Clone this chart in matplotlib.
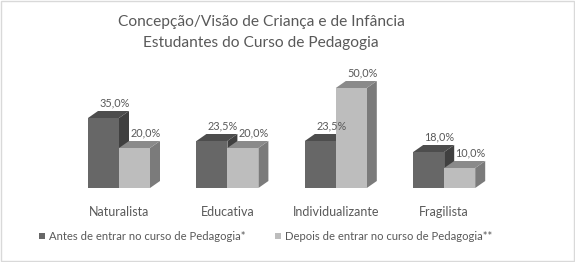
import numpy as np
import matplotlib.pyplot as plt
from matplotlib.patches import Polygon, Rectangle

# data
categories = ['Naturalista', 'Educativa', 'Individualizante', 'Fragilista']
antes = [35.0, 23.5, 23.5, 18.0]
depois = [20.0, 20.0, 50.0, 10.0]
series_names = ['Antes de entrar no curso de Pedagogia*',
                'Depois de entrar no curso de Pedagogia**']

TXT = '#595959'
FONT = 'Lato'
# front, top, side
dark = ('#676767', '#4d4d4d', '#404040')
light = ('#bdbdbd', '#8a8a8a', '#7b7b7b')

W, H = 575, 262
fig = plt.figure(figsize=(W / 100, H / 100), dpi=100)
fig.patch.set_facecolor('white')
fig.patches.append(Rectangle((0.002, 0.004), 0.996, 0.992, transform=fig.transFigure,
                             fill=False, edgecolor='#d9d9d9', linewidth=1))

# axes placed so 0% sits at px 188 and 50% at px 88
unit = 108.4
x_lo, x_hi = -0.6, 3.6
left_px = 119 - (0 - x_lo) * unit
ax = fig.add_axes([left_px / W, (H - 188) / H, (x_hi - x_lo) * unit / W, 100 / H])
ax.set_xlim(x_lo, x_hi)
ax.set_ylim(0, 50)
ax.axis('off')

bw = 31 / unit
dx = 10 / unit          # depth in x (data units)
dy = 7 / 2.0            # depth in y (2 px per %)


def bar3d(x0, h, cols):
    front = Rectangle((x0, 0), bw, h, facecolor=cols[0], edgecolor='none', clip_on=False)
    top = Polygon([(x0, h), (x0 + bw, h), (x0 + bw + dx, h + dy), (x0 + dx, h + dy)],
                  closed=True, facecolor=cols[1], edgecolor='none', clip_on=False)
    side = Polygon([(x0 + bw, 0), (x0 + bw + dx, dy), (x0 + bw + dx, h + dy), (x0 + bw, h)],
                   closed=True, facecolor=cols[2], edgecolor='none', clip_on=False)
    for p in (side, front, top):
        ax.add_patch(p)


off = 11 / unit
for i, (a, d) in enumerate(zip(antes, depois)):
    bar3d(i - bw, a, dark)
    bar3d(i, d, light)
    ax.text(i - bw / 2 + off, a + dy + 1.2, f'{a:.1f}%'.replace('.', ','),
            ha='center', va='bottom', fontsize=7.8, color=TXT, family=FONT)
    ax.text(i + bw / 2 + off, d + dy + 1.2, f'{d:.1f}%'.replace('.', ','),
            ha='center', va='bottom', fontsize=7.8, color=TXT, family=FONT)
    ax.text(i, -12, categories[i], ha='center', va='center',
            fontsize=9, color=TXT, family=FONT)

# title
fig.text(261 / W, 1 - 22 / H, 'Concepção/Visão de Criança e de Infância',
         ha='center', va='center', fontsize=11.2, color=TXT, family=FONT)
fig.text(261 / W, 1 - 43 / H, 'Estudantes do Curso de Pedagogia',
         ha='center', va='center', fontsize=11.2, color=TXT, family=FONT)

# legend
ly = 1 - 236 / H
for xm, name, c in zip([39, 275], series_names, [dark[0], light[0]]):
    fig.patches.append(Rectangle((xm / W, ly - 3 / H), 6 / W, 6 / H,
                                 transform=fig.transFigure, facecolor=c, edgecolor='none'))
    fig.text((xm + 10) / W, ly, name, ha='left', va='center',
             fontsize=8.1, color=TXT, family=FONT)

plt.savefig('out.png', dpi=100)
